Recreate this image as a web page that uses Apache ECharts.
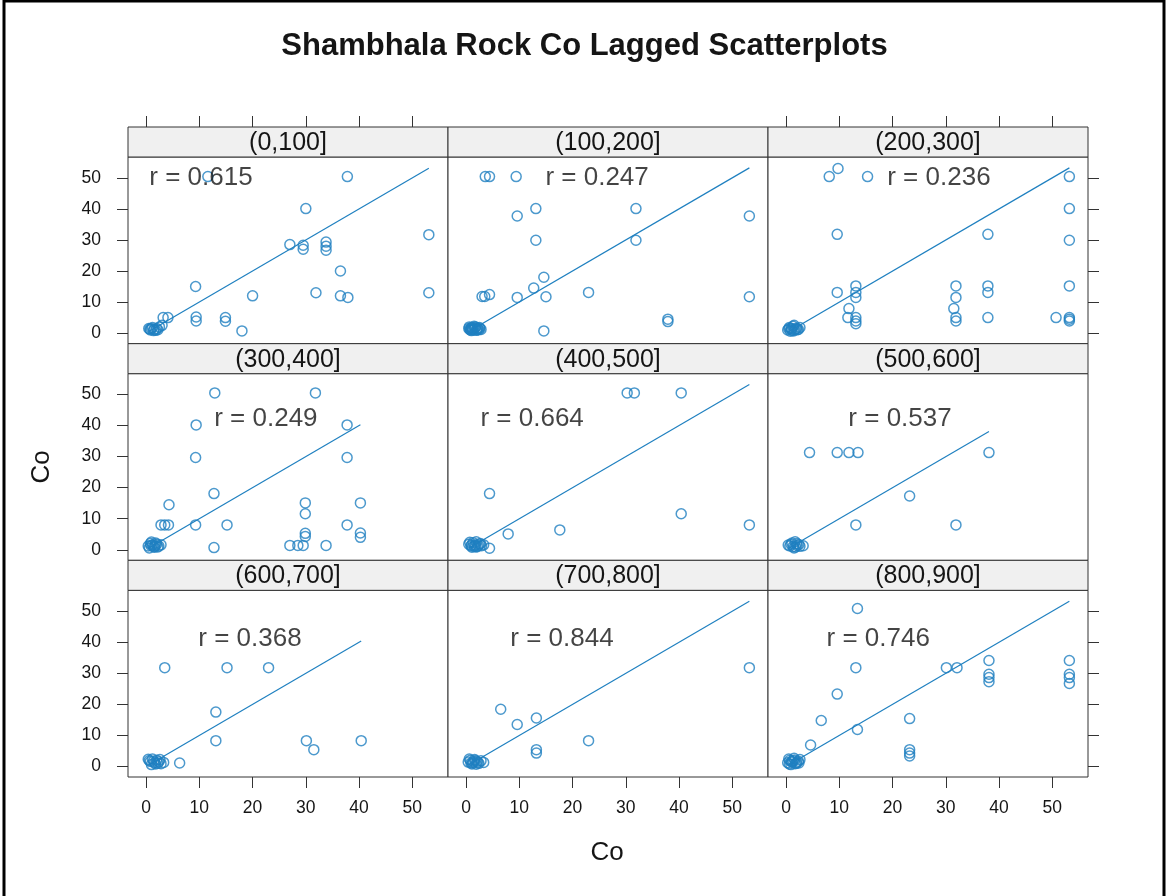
<!DOCTYPE html>
<html>
<head>
<meta charset="utf-8">
<title>Shambhala Rock Co Lagged Scatterplots</title>
<script src="https://cdn.jsdelivr.net/npm/echarts@6/dist/echarts.min.js"></script>
<style>
  html, body { margin: 0; padding: 0; background: #fff; }
  #chart { width: 1169px; height: 896px; }
</style>
</head>
<body>
<div id="chart"></div>
<script>
// panel strip labels (lag distance classes) and correlation labels
const stripLabels = ['(0,100]', '(100,200]', '(200,300]', '(300,400]', '(400,500]', '(500,600]', '(600,700]', '(700,800]', '(800,900]'];
const rValues = ['0.615', '0.247', '0.236', '0.249', '0.664', '0.537', '0.368', '0.844', '0.746'];
const rLabelX = [10.3, 24.6, 28.7, 22.5, 12.4, 21.4, 19.5, 18.0, 17.3];
const rLabelY = [50, 50, 50, 42, 42, 42, 41, 41, 41];
const tickValues = [0, 10, 20, 30, 40, 50];

// Co at head (x) vs Co at tail (y), one pair of arrays per panel
const p1X = [11.6, 37.8, 30.0, 53.1, 27.0, 29.5, 29.5, 33.8, 33.8, 33.8, 36.5, 9.3, 20.0, 31.9, 36.5, 37.9, 53.1, 18.0, 9.4, 9.4, 14.9, 14.9, 3.2, 4.1, 0.5, 1.0, 1.5, 2.0, 2.5, 1.8, 3.0, 0.8, 1.2, 0.7, 1.4, 2.2];
const p1Y = [50.4, 50.4, 40.1, 31.7, 28.5, 28.3, 27.0, 29.3, 28.0, 26.7, 20.0, 15.0, 12.0, 13.0, 12.0, 11.5, 13.0, 0.7, 5.2, 3.9, 5.0, 3.8, 5.0, 5.0, 1.5, 1.5, 1.2, 1.5, 2.0, 0.9, 2.5, 1.0, 1.8, 1.3, 0.8, 1.1];

const p2X = [3.6, 4.4, 9.4, 13.1, 9.6, 13.1, 31.9, 31.9, 53.2, 14.6, 12.7, 3.0, 3.5, 4.4, 9.6, 15.0, 23.0, 53.2, 37.9, 37.9, 14.6, 0.5, 0.8, 1.0, 1.2, 1.5, 1.8, 2.0, 2.2, 2.5, 1.0, 1.5, 2.8, 0.6, 0.9, 1.3, 1.7, 2.1, 2.4, 1.1, 1.9, 0.7, 2.6];
const p2Y = [50.4, 50.4, 50.4, 40.1, 37.7, 29.9, 40.1, 29.9, 37.7, 18.0, 14.5, 11.8, 11.8, 12.4, 11.5, 11.7, 13.1, 11.7, 4.5, 3.7, 0.7, 1.5, 1.0, 1.8, 1.2, 1.5, 2.0, 1.0, 1.5, 1.8, 0.8, 2.2, 1.2, 2.0, 1.4, 1.0, 1.7, 1.3, 1.1, 1.6, 0.9, 1.2, 1.5];

const p3X = [8.1, 9.75, 15.3, 53.2, 53.2, 53.2, 53.2, 53.2, 53.2, 53.2, 50.7, 9.6, 37.9, 37.9, 37.9, 37.9, 31.9, 31.9, 31.5, 31.9, 31.9, 9.6, 13.1, 13.1, 13.1, 11.8, 11.6, 13.1, 13.1, 13.1, 0.3, 0.6, 1.0, 1.3, 1.6, 2.0, 2.3, 0.8, 1.5, 2.6, 0.5, 1.1, 1.8, 0.9, 1.4, 2.1];
const p3Y = [50.4, 53.0, 50.4, 50.4, 40.1, 29.9, 15.2, 5.0, 3.9, 4.5, 5.0, 31.8, 31.8, 15.2, 13.1, 5.0, 15.2, 11.5, 7.9, 5.0, 3.9, 13.1, 15.2, 13.1, 11.5, 7.9, 5.0, 5.0, 3.9, 3.0, 1.0, 1.8, 1.3, 2.2, 1.0, 1.6, 1.2, 0.6, 2.5, 1.8, 1.4, 0.9, 1.3, 1.6, 0.7, 1.1];

const p4X = [12.9, 31.8, 9.4, 37.75, 9.3, 37.75, 12.75, 4.3, 29.9, 29.9, 40.25, 2.8, 3.5, 4.2, 9.3, 15.2, 37.75, 29.9, 29.9, 40.25, 40.25, 12.75, 27.0, 28.5, 29.5, 33.8, 0.4, 0.8, 1.2, 1.6, 2.0, 2.4, 1.0, 1.8, 2.8, 0.6, 1.4, 2.2, 0.9, 1.7];
const p4Y = [50.5, 50.5, 40.2, 40.2, 29.7, 29.7, 18.1, 14.5, 15.1, 11.6, 15.1, 8.0, 8.0, 8.0, 8.0, 8.0, 8.0, 5.3, 4.3, 5.4, 4.0, 0.7, 1.4, 1.4, 1.4, 1.4, 1.2, 2.0, 1.5, 0.8, 1.8, 1.2, 2.5, 2.2, 1.6, 0.6, 1.0, 0.9, 1.4, 1.3];

const p5X = [30.25, 31.6, 40.4, 4.4, 40.4, 53.2, 17.6, 7.9, 4.4, 0.5, 0.9, 1.3, 1.7, 2.1, 2.5, 2.9, 1.1, 1.9, 3.3, 0.7, 1.5, 2.3, 2.7, 1.0, 1.8];
const p5Y = [50.5, 50.5, 50.5, 18.1, 11.6, 8.0, 6.4, 5.1, 0.5, 1.8, 1.2, 2.3, 1.5, 1.0, 1.9, 1.3, 0.8, 2.6, 1.6, 2.4, 1.1, 1.4, 2.0, 1.5, 0.9];

const p6X = [4.4, 9.6, 11.8, 13.5, 38.1, 23.2, 13.1, 31.9, 0.4, 0.9, 1.3, 1.7, 2.1, 2.6, 1.5, 3.2, 0.7, 2.0, 1.1, 1.8, 2.4];
const p6Y = [31.3, 31.3, 31.3, 31.3, 31.3, 17.3, 8.0, 8.0, 1.5, 1.8, 1.0, 2.6, 1.4, 1.1, 0.6, 1.3, 1.2, 2.0, 2.2, 0.9, 1.7];

const p7X = [3.5, 15.2, 23.0, 13.1, 13.1, 30.1, 31.5, 40.4, 6.3, 0.4, 0.8, 1.2, 1.6, 2.0, 2.4, 2.8, 1.0, 1.8, 3.3, 0.6, 1.4, 2.2, 2.6];
const p7Y = [31.8, 31.8, 31.8, 17.5, 8.3, 8.3, 5.4, 8.3, 1.1, 2.3, 1.6, 2.4, 1.2, 2.0, 1.5, 0.9, 0.6, 0.8, 1.3, 1.9, 1.7, 1.0, 2.2];

const p8X = [53.2, 6.5, 9.6, 13.2, 23.0, 13.2, 13.2, 0.4, 0.8, 1.2, 1.6, 2.0, 2.4, 2.8, 1.1, 1.9, 3.3, 0.6, 1.4, 2.2, 0.9, 1.7];
const p8Y = [31.8, 18.4, 13.5, 15.6, 8.3, 5.4, 4.3, 1.4, 2.0, 1.2, 2.2, 1.6, 1.0, 1.8, 0.8, 0.7, 1.3, 2.4, 1.5, 1.3, 1.1, 1.9];

const p9X = [13.4, 13.1, 9.6, 6.6, 13.4, 4.6, 23.2, 23.2, 23.2, 23.2, 30.1, 32.1, 38.1, 38.1, 38.1, 38.1, 53.2, 53.2, 53.2, 53.2, 0.3, 0.7, 1.1, 1.5, 1.9, 2.3, 0.9, 1.7, 2.6, 0.5, 1.3, 2.0, 1.0, 1.6, 2.4, 0.6];
const p9Y = [50.85, 31.8, 23.3, 14.8, 11.9, 6.9, 15.4, 5.4, 4.3, 3.4, 31.8, 31.8, 34.1, 29.7, 28.6, 27.3, 34.1, 29.7, 28.6, 26.7, 1.2, 2.0, 1.4, 2.6, 1.0, 1.7, 0.6, 0.9, 2.2, 2.4, 1.8, 1.3, 1.6, 2.1, 1.1, 0.8];

const panelX = [p1X, p2X, p3X, p4X, p5X, p6X, p7X, p8X, p9X];
const panelY = [p1Y, p2Y, p3Y, p4Y, p5Y, p6Y, p7Y, p8Y, p9Y];

// layout
const FONT = '"Liberation Sans", Arial, Helvetica, sans-serif';
const BLUE = '#1f80c0';
const INK = '#151515';
const LEFT = 128, PANEL_W = 320, TOP = 127, ROW_H = 216.67, STRIP_H = 30;
const AX_MIN = -3.4, AX_MAX = 56.7;

const chart = echarts.init(document.getElementById('chart'), null, { renderer: 'canvas' });

function panelBox(i) {
  const row = Math.floor(i / 3), col = i % 3;
  return {
    row: row,
    col: col,
    left: LEFT + col * PANEL_W,
    top: TOP + row * ROW_H + STRIP_H,
    height: ROW_H - STRIP_H
  };
}

const grids = [], xAxes = [], yAxes = [], series = [], graphics = [];

const tickStyle = { color: '#333', width: 1 };
const labelStyle = { fontFamily: FONT, fontSize: 17.5, color: INK };
const noLine = { show: false, onZero: false };

for (let i = 0; i < 9; i++) {
  const b = panelBox(i);
  grids.push({
    left: b.left, top: b.top, width: PANEL_W, height: b.height,
    show: true, borderColor: '#333', borderWidth: 1, backgroundColor: '#fff'
  });

  xAxes.push({
    gridIndex: i, type: 'value', min: AX_MIN, max: AX_MAX, position: 'bottom',
    axisLine: noLine, splitLine: { show: false },
    axisTick: { show: b.row === 2, length: 11, customValues: tickValues, lineStyle: tickStyle },
    axisLabel: Object.assign({ show: b.row === 2, customValues: tickValues, margin: 22 }, labelStyle)
  });
  yAxes.push({
    gridIndex: i, type: 'value', min: AX_MIN, max: AX_MAX, position: 'left',
    axisLine: noLine, splitLine: { show: false },
    axisTick: { show: b.col === 0, length: 11, customValues: tickValues, lineStyle: tickStyle },
    axisLabel: Object.assign({ show: b.col === 0, customValues: tickValues, margin: 27 }, labelStyle)
  });

  const pts = panelX[i].map((x, k) => [x, panelY[i][k]]);
  series.push({
    type: 'scatter', xAxisIndex: i, yAxisIndex: i, data: pts,
    symbol: 'circle', symbolSize: 10,
    itemStyle: { color: 'rgba(255,255,255,0)', borderColor: BLUE, borderWidth: 1.5 },
    silent: true, z: 3
  });

  // 1:1 reference line over the range of the lagged values
  const lo = Math.min.apply(null, panelX[i]);
  const hi = Math.max.apply(null, panelX[i]);
  series.push({
    type: 'line', xAxisIndex: i, yAxisIndex: i, data: [[lo, lo], [hi, hi]],
    showSymbol: false, lineStyle: { color: BLUE, width: 1.2 }, silent: true, z: 2
  });

  series.push({
    type: 'scatter', xAxisIndex: i, yAxisIndex: i, data: [[rLabelX[i], rLabelY[i]]],
    symbolSize: 0, silent: true, z: 4,
    label: {
      show: true, position: 'inside', formatter: 'r = ' + rValues[i],
      fontFamily: FONT, fontSize: 26, color: INK
    }
  });

  // strip
  graphics.push({
    type: 'rect', silent: true, z: 10,
    shape: { x: b.left, y: b.top - STRIP_H, width: PANEL_W, height: STRIP_H },
    style: { fill: '#f0f0f0', stroke: '#333', lineWidth: 1 }
  });
  graphics.push({
    type: 'text', silent: true, z: 11,
    x: b.left + PANEL_W / 2, y: b.top - STRIP_H / 2 + 1,
    style: { text: stripLabels[i], fontFamily: FONT, fontSize: 25, fill: INK, align: 'center', verticalAlign: 'middle' }
  });
}

// tick marks only: top of columns 1 and 3, right of rows 1 and 3
[0, 2].forEach(function (i) {
  xAxes.push({
    gridIndex: i, type: 'value', min: AX_MIN, max: AX_MAX, position: 'top', offset: STRIP_H,
    axisLine: noLine, splitLine: { show: false }, axisLabel: { show: false },
    axisTick: { show: true, length: 11, customValues: tickValues, lineStyle: tickStyle }
  });
});
[2, 8].forEach(function (i) {
  yAxes.push({
    gridIndex: i, type: 'value', min: AX_MIN, max: AX_MAX, position: 'right',
    axisLine: noLine, splitLine: { show: false }, axisLabel: { show: false },
    axisTick: { show: true, length: 11, customValues: tickValues, lineStyle: tickStyle }
  });
});

// axis titles and frame
graphics.push({
  type: 'text', silent: true,
  x: 607, y: 853,
  style: { text: 'Co', fontFamily: FONT, fontSize: 26, fill: INK, align: 'center', verticalAlign: 'middle' }
});
graphics.push({
  type: 'text', silent: true,
  x: 42, y: 467, rotation: Math.PI / 2,
  style: { text: 'Co', fontFamily: FONT, fontSize: 26, fill: INK, align: 'center', verticalAlign: 'middle' }
});
graphics.push({
  type: 'rect', silent: true,
  shape: { x: 4, y: 1, width: 1160, height: 897 },
  style: { fill: 'none', stroke: '#000', lineWidth: 3 }
});

chart.setOption({
  backgroundColor: '#fff',
  animation: false,
  title: {
    text: 'Shambhala Rock Co Lagged Scatterplots',
    left: 'center', top: 26,
    textStyle: { fontFamily: FONT, fontSize: 31, fontWeight: 'bold', color: INK }
  },
  grid: grids,
  xAxis: xAxes,
  yAxis: yAxes,
  series: series,
  graphic: graphics
});
</script>
</body>
</html>
